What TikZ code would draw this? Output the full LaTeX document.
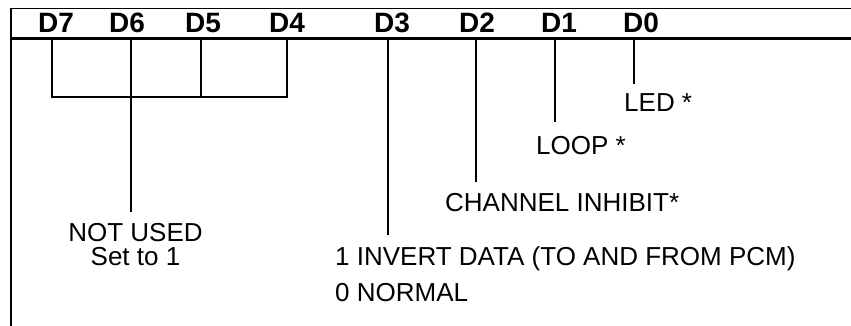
\documentclass[tikz,border=0pt]{standalone}
\usepackage{fontspec}
\setmainfont{Liberation Sans}
\begin{document}
\begin{tikzpicture}[x=1pt,y=-1pt,
  bitlabel/.style={font=\fontsize{28}{28}\selectfont\bfseries, anchor=base, inner sep=0pt},
  desc/.style={font=\fontsize{26}{26}\selectfont, inner sep=0pt},
  lead/.style={line width=2.2pt},
  frame/.style={line width=2.5pt}]
\useasboundingbox (0,0) rectangle (851,326);

% register frame
\draw[line width=1.6pt] (11,8.5) -- (851,8.5);
\draw[line width=3pt] (11,39) -- (851,39);
\draw[frame] (11,8) -- (11,326);

% bit names
\node[bitlabel] (d7) at (56,33) {D7};
\node[bitlabel] (d6) at (127,33) {D6};
\node[bitlabel] (d5) at (203,33) {D5};
\node[bitlabel] (d4) at (287,33) {D4};
\node[bitlabel] (d3) at (392,33) {D3};
\node[bitlabel] (d2) at (477,33) {D2};
\node[bitlabel] (d1) at (559,33) {D1};
\node[bitlabel] (d0) at (641,33) {D0};

% descriptions
\node[desc, anchor=base] (nu) at (135.5,241) {NOT USED};
\node[desc, anchor=base] (set1) at (135.5,265) {Set to 1};
\node[desc, anchor=base west] (inv) at (335,265) {1 INVERT DATA (TO AND FROM PCM)};
\node[desc, anchor=base west] (norm) at (335,301) {0 NORMAL};
\node[desc, anchor=base west] (chi) at (445,211) {CHANNEL INHIBIT*};
\node[desc, anchor=base west] (loop) at (536,154) {LOOP *};
\node[desc, anchor=base west] (led) at (624,112) {LED *};

% lead tops on the header rule
\coordinate (t7) at (52,39);
\coordinate (t6) at (131,39);
\coordinate (t5) at (201,39);
\coordinate (t4) at (287,39);
\coordinate (t3) at (388,39);
\coordinate (t2) at (476,39);
\coordinate (t1) at (555,39);
\coordinate (t0) at (634,39);

% lead ends
\coordinate (b7) at (52,97);
\coordinate (b5) at (201,97);
\coordinate (b4) at (287,97);
\coordinate (b6) at (131,212);
\coordinate (b3) at (388,235);
\coordinate (b2) at (476,182);
\coordinate (b1) at (555,122);
\coordinate (b0) at (634,84);

% unused bits joined together
\draw[lead] (t7) -- (b7) -- (b4) -- (t4);
\draw[lead] (t5) -- (b5);
\draw[lead] (t6) -- (b6);

% individual leads
\draw[lead] (t3) -- (b3);
\draw[lead] (t2) -- (b2);
\draw[lead] (t1) -- (b1);
\draw[lead] (t0) -- (b0);
\end{tikzpicture}
\end{document}
